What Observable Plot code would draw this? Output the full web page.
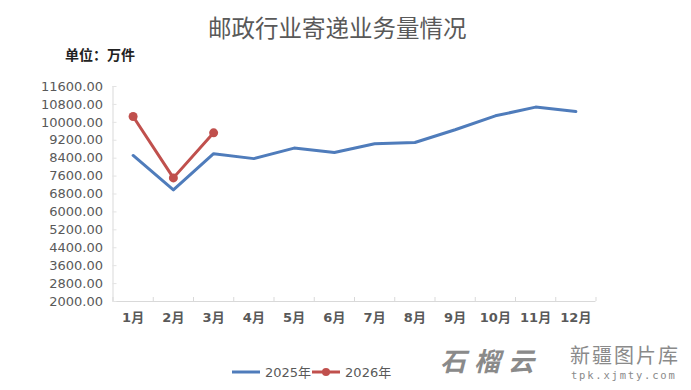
<!DOCTYPE html>
<html>
<head>
<meta charset="utf-8">
<script src="https://cdn.jsdelivr.net/npm/d3@7"></script>
<script src="https://cdn.jsdelivr.net/npm/@observablehq/plot@0.6"></script>
<style>
  html, body { margin: 0; padding: 0; background: #fff; }
  #wrap { position: relative; width: 691px; height: 390px; overflow: hidden; font-family: "DejaVu Sans", "Noto Sans CJK SC", sans-serif; }
  #title { position: absolute; left: 208px; top: 12px; white-space: nowrap; font-family: "Noto Sans CJK SC", sans-serif; font-size: 23.5px; line-height: 30px; color: #595959; }
  #unit { position: absolute; left: 65px; top: 44px; font-family: "Noto Sans CJK SC", sans-serif; font-size: 14px; line-height: 20px; font-weight: bold; color: #222; }
  #legend { position: absolute; top: 362px; left: 232px; font-size: 13px; color: #595959; display: flex; align-items: center; font-family: "DejaVu Sans", "Noto Sans CJK SC", sans-serif; }
  #legend span { display: inline-flex; align-items: center; }
  #wm { position: absolute; left: 440px; top: 344px; width: 250px; height: 46px; color: #8a8a8a; white-space: nowrap; }
  #wm div { position: absolute; }
  #wm .logo { left: 0; top: 2px; font-family: "Noto Sans CJK SC", sans-serif; font-size: 26px; line-height: 28px; font-weight: bold; letter-spacing: 8px; font-style: italic; }
  #wm .name { left: 130px; top: 1px; font-family: "Noto Sans CJK SC", serif; font-size: 20px; line-height: 20px; letter-spacing: 2px; }
  #wm .url { left: 131px; top: 25px; font-family: "DejaVu Sans Mono", monospace; font-size: 10.5px; line-height: 12px; letter-spacing: 1.8px; }
  #chart { position: absolute; left: 0; top: 0; }
</style>
</head>
<body>
<div id="wrap">
  <div id="chart"></div>
  <div id="title"></div>
  <div id="unit"></div>
  <div id="legend"></div>
  <div id="wm"><div class="logo">石榴云</div><div class="name">新疆图片库</div><div class="url">tpk.xjmty.com</div></div>
</div>
<script>
const titleText = "邮政行业寄递业务量情况";
const unitText = "单位：万件";
const months = [1, 2, 3, 4, 5, 6, 7, 8, 9, 10, 11, 12];
const monthLabels = ["1月", "2月", "3月", "4月", "5月", "6月", "7月", "8月", "9月", "10月", "11月", "12月"];
const seriesNames = ["2025年", "2026年"];
const values2025 = [8520, 6980, 8600, 8380, 8850, 8650, 9040, 9100, 9670, 10290, 10680, 10480];
const values2026 = [10260, 7520, 9530];
const yTicks = [2000, 2800, 3600, 4400, 5200, 6000, 6800, 7600, 8400, 9200, 10000, 10800, 11600];
const colors = ["#4f7cbb", "#c0504d"];

document.getElementById("title").textContent = titleText;
document.getElementById("unit").textContent = unitText;

const d2025 = months.map((m, i) => ({month: m, value: values2025[i]}));
const d2026 = values2026.map((v, i) => ({month: months[i], value: v}));
const boundaries = d3.range(0, months.length + 1).map(i => months[0] - 0.5 + i);

const plot = Plot.plot({
  width: 691,
  height: 390,
  marginLeft: 112.5,
  marginRight: 95.5,
  marginTop: 86,
  marginBottom: 89,
  style: {fontFamily: "DejaVu Sans, Noto Sans CJK SC, sans-serif", fontSize: "13px", color: "#595959", background: "transparent"},
  x: {domain: [0.5, 12.5], axis: null},
  y: {domain: [2000, 11600], axis: null},
  marks: [
    Plot.ruleY([2000], {stroke: "#d9d9d9", strokeWidth: 1}),
    Plot.ruleX([0.5], {stroke: "#d9d9d9", strokeWidth: 1}),
    Plot.axisY(yTicks, {tickSize: -4, stroke: "#e3e3e3", tickFormat: () => "", label: null}),
    Plot.axisY(yTicks, {tickSize: 0, tickPadding: 10, tickFormat: d3.format(".2f"), fill: "#595959", fontSize: 13, label: null}),
    Plot.axisX(boundaries, {tickSize: -4, stroke: "#d9d9d9", tickFormat: () => "", label: null}),
    Plot.axisX(months, {tickSize: 0, tickPadding: 11, tickFormat: d => monthLabels[months.indexOf(d)], fill: "#595959", fontSize: 13, fontWeight: "bold", label: null}),
    Plot.line(d2025, {x: "month", y: "value", stroke: colors[0], strokeWidth: 3, strokeLinejoin: "round", strokeLinecap: "round"}),
    Plot.line(d2026, {x: "month", y: "value", stroke: colors[1], strokeWidth: 3, strokeLinejoin: "round"}),
    Plot.dot(d2026, {x: "month", y: "value", fill: colors[1], r: 4.5})
  ]
});
document.getElementById("chart").appendChild(plot);

const legend = document.getElementById("legend");
seriesNames.forEach((name, i) => {
  const s = document.createElement("span");
  const marker = i === 1 ? `<circle cx="14" cy="6" r="4" fill="${colors[i]}"/>` : "";
  s.innerHTML = `<svg width="29" height="12" style="margin-right:4px"><line x1="0" x2="28" y1="6" y2="6" stroke="${colors[i]}" stroke-width="3"/>${marker}</svg><span>${name}</span>`;
  s.style.marginRight = "1px";
  legend.appendChild(s);
});
</script>
</body>
</html>
